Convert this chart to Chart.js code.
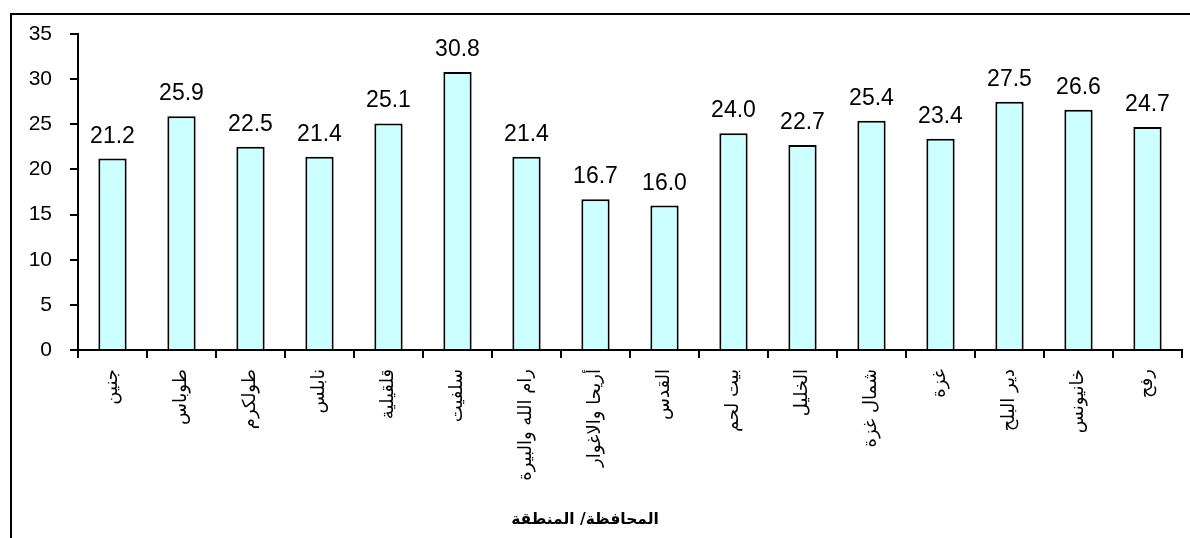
<!DOCTYPE html>
<html>
<head>
<meta charset="utf-8">
<script src="https://cdn.jsdelivr.net/npm/chart.js@4/dist/chart.umd.min.js"></script>
<style>
  html, body { margin: 0; padding: 0; background: #fff; }
  #wrap { position: relative; width: 1190px; height: 538px; overflow: hidden; }
  #frame { position: absolute; left: 10px; top: 13px; width: 1300px; height: 600px; border-left: 2px solid #000; border-top: 2px solid #000; }
  #c { position: absolute; left: 0; top: 0; }
</style>
</head>
<body>
<div id="wrap">
  <div id="frame"></div>
  <canvas id="c" width="1190" height="538"></canvas>
</div>
<script>
const categories = ["جنين", "طوباس", "طولكرم", "نابلس", "قلقيلية", "سلفيت", "رام الله والبيرة", "أريحا والاغوار", "القدس", "بيت لحم", "الخليل", "شمال غزة", "غزة", "دير البلح", "خانيونس", "رفح"];
const values = [21.2, 25.9, 22.5, 21.4, 25.1, 30.8, 21.4, 16.7, 16.0, 24.0, 22.7, 25.4, 23.4, 27.5, 26.6, 24.7];
const yTicks = [0, 5, 10, 15, 20, 25, 30, 35];
const axisTitle = "المحافظة/ المنطقة";

const labelPlugin = {
  id: 'valueLabels',
  afterDatasetsDraw(chart) {
    const ctx = chart.ctx;
    const meta = chart.getDatasetMeta(0);
    ctx.save();
    ctx.fillStyle = '#000';
    ctx.font = '23px "Liberation Sans", Arial, sans-serif';
    ctx.textAlign = 'center';
    ctx.textBaseline = 'alphabetic';
    meta.data.forEach((bar, i) => {
      ctx.fillText(values[i].toFixed(1), bar.x, bar.y - 16);
    });
    ctx.restore();
  },
  afterDraw(chart) {
    const ctx = chart.ctx;
    ctx.save();
    ctx.fillStyle = '#000';
    ctx.font = 'bold 15.5px "DejaVu Sans", sans-serif';
    ctx.textAlign = 'center';
    ctx.textBaseline = 'middle';
    ctx.direction = 'rtl';
    ctx.fillText(axisTitle, 585, 520);
    ctx.restore();
  }
};

new Chart(document.getElementById('c'), {
  type: 'bar',
  data: {
    labels: categories,
    datasets: [{
      data: values,
      backgroundColor: '#CCFFFF',
      borderColor: '#000',
      borderWidth: 2,
      barPercentage: 0.82,
      categoryPercentage: 0.5
    }]
  },
  options: {
    responsive: false,
    animation: false,
    devicePixelRatio: 1,
    layout: { padding: { left: 0, top: 34, right: 8, bottom: 0 } },
    plugins: { legend: { display: false }, tooltip: { enabled: false }, title: { display: false } },
    scales: {
      x: {
        grid: { display: true, drawOnChartArea: false, offset: true, color: '#000', lineWidth: 2, tickLength: 8 },
        border: { display: true, color: '#000', width: 2 },
        ticks: {
          autoSkip: false, minRotation: 90, maxRotation: 90, padding: 11,
          color: '#000', font: { family: '"DejaVu Sans", sans-serif', size: 18 }
        },
        afterFit(scale) { scale.height = 188; }
      },
      y: {
        min: 0, max: 35,
        afterBuildTicks(scale) { scale.ticks = yTicks.map(v => ({ value: v })); },
        grid: { display: true, drawOnChartArea: false, color: '#000', lineWidth: 2, tickLength: 8 },
        border: { display: true, color: '#000', width: 2 },
        ticks: {
          padding: 18, color: '#000',
          font: { family: '"Liberation Sans", Arial, sans-serif', size: 21 }
        },
        afterFit(scale) { scale.width = 78; }
      }
    }
  },
  plugins: [labelPlugin]
});
</script>
</body>
</html>
